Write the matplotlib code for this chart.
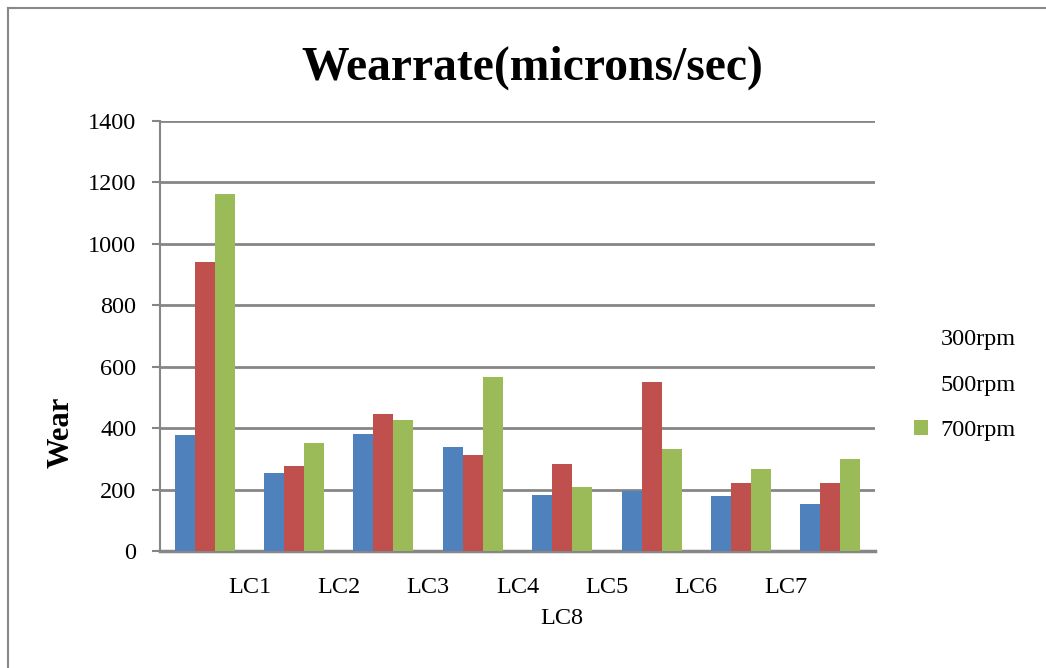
import matplotlib
matplotlib.use('Agg')
import matplotlib.pyplot as plt
import numpy as np
from matplotlib.lines import Line2D

# Wear rate per load case at three spindle speeds
load_cases = ['LC1', 'LC2', 'LC3', 'LC4', 'LC5', 'LC6', 'LC7', 'LC8']
rpm_300 = [378, 254, 382, 340, 181, 194, 178, 152]
rpm_500 = [940, 277, 447, 314, 282, 549, 223, 220]
rpm_700 = [1161, 351, 428, 565, 210, 331, 266, 298]
series_names = ['300rpm', '500rpm', '700rpm']
y_ticks = [0, 200, 400, 600, 800, 1000, 1200, 1400]

plt.rcParams['font.family'] = ['Liberation Serif', 'DejaVu Serif']

GRID = '#868686'
colors = ['#4F81BD', '#C0504D', '#9BBB59']


def main():
    fig = plt.figure(figsize=(10.46, 6.68), dpi=100)
    ax = fig.add_axes([160 / 1046, 117 / 668, 715 / 1046, 430 / 668])

    x = np.arange(len(load_cases))
    w = 0.224
    bars = []
    for k, vals in enumerate([rpm_300, rpm_500, rpm_700]):
        b = ax.bar(x + (k - 1) * w, vals, width=w, color=colors[k],
                   label=series_names[k], zorder=3)
        bars.append(b)

    ax.set_xlim(-0.5, len(load_cases) - 0.5)
    ax.set_ylim(0, 1400)
    ax.set_yticks(y_ticks)
    ax.yaxis.grid(True, color=GRID, linewidth=2, zorder=0)
    ax.set_axisbelow(True)

    # category labels sit on the group boundaries, the last one wraps below
    ax.xaxis.remove_overlapping_locs = False
    ax.set_xticks(x[:-1] + 0.5, load_cases[:-1])
    ax.set_xticks([4.0], [load_cases[-1]], minor=True)
    ax.tick_params(axis='x', which='major', length=0, pad=19, labelsize=17.5)
    ax.tick_params(axis='x', which='minor', length=0, pad=41, labelsize=17.5)
    ax.tick_params(axis='y', direction='out', length=6, width=1.5,
                   color=GRID, pad=11, labelsize=17.5)

    for side in ['top', 'right']:
        ax.spines[side].set_visible(False)
    ax.spines['left'].set_color(GRID)
    ax.spines['left'].set_linewidth(1.5)
    ax.spines['bottom'].set_color(GRID)
    ax.spines['bottom'].set_linewidth(2.5)

    ax.set_ylabel('Wear', fontsize=22, fontweight='bold')
    ax.yaxis.set_label_coords(-0.118, 0.277)
    fig.text(532 / 1046, 1 - 80 / 668, 'Wearrate(microns/sec)', ha='center',
             va='baseline', fontsize=34.3, fontweight='bold')

    leg = fig.legend(handles=bars, labels=series_names, loc='upper left',
                     bbox_to_anchor=(904 / 1046, 1 - 319 / 668),
                     frameon=False, fontsize=17.5, handlelength=0.6,
                     handleheight=0.6, handletextpad=0.5, labelspacing=1.0,
                     borderaxespad=0)
    for h in leg.legend_handles[:2]:
        h.set_visible(False)

    # outer chart border
    fig.add_artist(Line2D([8 / 1046, 1.01], [1 - 8 / 668, 1 - 8 / 668],
                          transform=fig.transFigure, color='#888888', lw=1.5))
    fig.add_artist(Line2D([8 / 1046, 8 / 1046], [1 - 8 / 668, -0.01],
                          transform=fig.transFigure, color='#888888', lw=1.5))

    fig.savefig('out.png', dpi=100)


if __name__ == '__main__':
    main()
